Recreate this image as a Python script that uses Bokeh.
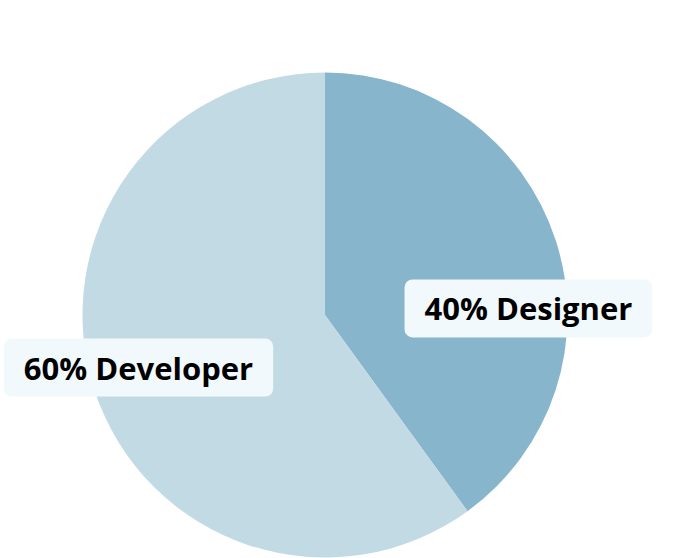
import math
from bokeh.plotting import figure
from bokeh.models import Range1d, Label
from bokeh.embed import file_html
from bokeh.resources import INLINE

# data
categories = ["Designer", "Developer"]
values = [40, 60]
colors = ["#87B5CB", "#C2DAE4"]

W, H = 665, 558
R_PX = 242.5
CX, CY = 324.5, 314.5  # pie centre in canvas pixels

p = figure(width=W, height=H, output_backend="svg", toolbar_location=None,
           x_range=Range1d(-CX / R_PX, (W - CX) / R_PX),
           y_range=Range1d(-(H - CY) / R_PX, CY / R_PX),
           min_border=0)
p.axis.visible = False
p.grid.visible = False
p.outline_line_color = None
p.background_fill_color = "white"
p.border_fill_color = "white"

total = sum(values)
start = math.pi / 2
for cat, v, c in zip(categories, values, colors):
    sweep = 2 * math.pi * v / total
    end = start - sweep
    p.wedge(x=0, y=0, radius=1, start_angle=end, end_angle=start,
            fill_color=c, line_color=None)
    start = end

label_pos = {"Designer": (0.839, 0.027), "Developer": (-0.769, -0.2165)}
for cat, v in zip(categories, values):
    lx, ly = label_pos[cat]
    p.add_layout(Label(x=lx, y=ly, text=f"{v}% {cat}",
                       text_font="Open Sans", text_font_style="bold",
                       text_font_size="31px", text_color="#000000",
                       text_align="center", text_baseline="middle",
                       background_fill_color="#F2F9FC",
                       padding=dict(left=20, right=20, top=8, bottom=8),
                       border_radius=8))

open("out.html", "w").write(file_html(p, INLINE))
